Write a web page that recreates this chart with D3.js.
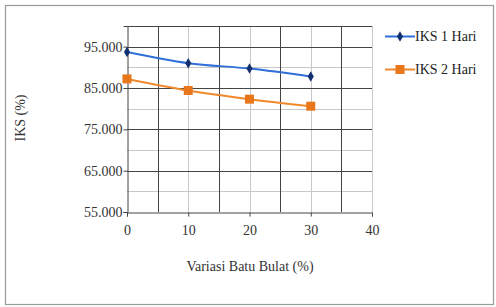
<!DOCTYPE html>
<html><head><meta charset="utf-8">
<script src="https://cdn.jsdelivr.net/npm/d3@7"></script>
<style>body{margin:0;background:#fff}svg{display:block}</style>
</head><body>
<script>
const xValues = [0, 10, 20, 30];
const iks1 = [93.7, 91.0, 89.7, 87.8];
const iks2 = [87.2, 84.4, 82.3, 80.6];
const seriesNames = ["IKS 1 Hari", "IKS 2 Hari"];
const yTicks = [55, 65, 75, 85, 95];
const xTicks = [0, 10, 20, 30, 40];

const FONT = "Liberation Serif";
const W = 496, H = 307;
const svg = d3.select("body").append("svg").attr("width", W).attr("height", H)
  .style("font-family", FONT);
svg.append("rect").attr("x", 5.5).attr("y", 5.5).attr("width", 488).attr("height", 299)
  .attr("fill", "#fff").attr("stroke", "#9a9a9a").attr("stroke-width", 1.2);

const x = d3.scaleLinear().domain([0, 40]).range([127, 372]);
const y = d3.scaleLinear().domain([55, 100]).range([212, 26]);
const g = svg.append("g");

// minor gridlines
[60, 70, 80, 90].forEach(v => g.append("line").attr("x1", x(0)).attr("x2", x(40))
  .attr("y1", Math.round(y(v)) + 0.5).attr("y2", Math.round(y(v)) + 0.5).attr("stroke", "#c8c8c8"));
[10, 20, 30, 40].forEach(v => g.append("line").attr("y1", y(55)).attr("y2", y(100))
  .attr("x1", Math.round(x(v)) + 0.5).attr("x2", Math.round(x(v)) + 0.5).attr("stroke", "#c8c8c8"));
// major gridlines
[65, 75, 85, 95, 100].forEach(v => g.append("line").attr("x1", x(0)).attr("x2", x(40))
  .attr("y1", Math.round(y(v)) + 0.5).attr("y2", Math.round(y(v)) + 0.5).attr("stroke", "#444"));
[5, 15, 25, 35].forEach(v => g.append("line").attr("y1", y(55)).attr("y2", y(100))
  .attr("x1", Math.round(x(v)) + 0.5).attr("x2", Math.round(x(v)) + 0.5).attr("stroke", "#444"));

// axes
const yAxis = d3.axisLeft(y).tickValues(yTicks).tickSize(4).tickFormat(d3.format(".3f"));
const ya = svg.append("g").attr("transform", `translate(${Math.round(x(0)) + 0.5},0)`).call(yAxis)
  .attr("font-family", FONT);
ya.select(".domain").attr("stroke", "#444");
ya.selectAll(".tick line").attr("stroke", "#444");
ya.selectAll("text").attr("font-family", FONT).style("font-family", FONT).attr("font-size", 14).attr("fill", "#333").attr("x", -5);

const xAxis = d3.axisBottom(x).tickValues(xTicks).tickSize(4);
const xa = svg.append("g").attr("transform", `translate(0,${Math.round(y(55)) + 0.5})`).call(xAxis)
  .attr("font-family", FONT);
xa.select(".domain").attr("stroke", "#444");
xa.selectAll(".tick line").attr("stroke", "#444");
xa.selectAll("text").attr("font-family", FONT).style("font-family", FONT).attr("font-size", 14).attr("fill", "#333").attr("dy", "1.1em");

// titles
svg.append("text").attr("x", 250).attr("y", 271).attr("text-anchor", "middle")
  .attr("font-family", FONT).style("font-family", FONT).attr("font-size", 14).attr("fill", "#333").text("Variasi Batu Bulat (%)");
svg.append("text").attr("transform", "translate(25,118) rotate(-90)").attr("text-anchor", "middle")
  .attr("font-family", FONT).style("font-family", FONT).attr("font-size", 14).attr("fill", "#333").text("IKS (%)");

const colors = ["#2f6fd8", "#f0882c"];
const markerFill = ["#13306e", "#e8771c"];
const data = [iks1, iks2];
const line = d3.line().x((d, i) => x(xValues[i])).y(d => y(d)).curve(d3.curveCatmullRom.alpha(0.5));

data.forEach((s, k) => {
  svg.append("path").attr("d", line(s)).attr("fill", "none").attr("stroke", colors[k]).attr("stroke-width", 2);
  s.forEach((v, i) => {
    const cx = x(xValues[i]), cy = y(v);
    if (k === 0) {
      svg.append("path").attr("d", d3.symbol(d3.symbolDiamond, 32)()).attr("transform", `translate(${cx},${cy})`)
        .attr("fill", markerFill[k]);
    } else {
      svg.append("rect").attr("x", cx - 4.5).attr("y", cy - 4.5).attr("width", 9).attr("height", 9)
        .attr("fill", markerFill[k]);
    }
  });
});

// legend
const legY = [36.5, 69.5];
seriesNames.forEach((n, k) => {
  svg.append("line").attr("x1", 385).attr("x2", 415).attr("y1", legY[k]).attr("y2", legY[k])
    .attr("stroke", colors[k]).attr("stroke-width", 2);
  if (k === 0) {
    svg.append("path").attr("d", d3.symbol(d3.symbolDiamond, 32)()).attr("transform", `translate(400,${legY[k]})`).attr("fill", markerFill[k]);
  } else {
    svg.append("rect").attr("x", 395.5).attr("y", legY[k] - 4.5).attr("width", 9).attr("height", 9).attr("fill", markerFill[k]);
  }
  svg.append("text").attr("x", 415).attr("y", legY[k] + 4.5).attr("font-family", FONT).style("font-family", FONT)
    .attr("font-size", 14).attr("fill", "#222").text(n);
});
</script>
</body></html>
